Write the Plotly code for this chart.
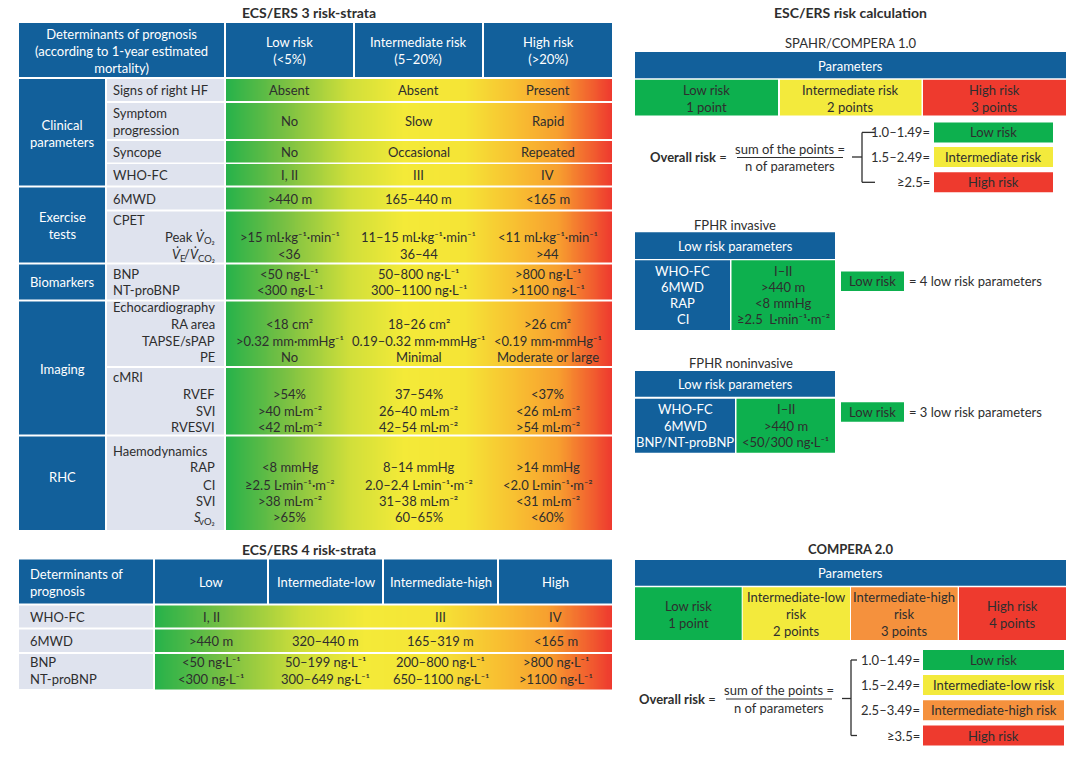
import numpy as np
import plotly.graph_objects as go

FONT = "Lato"
BLUE = "#12609b"
LIGHT = "#dfe3ee"
GREEN = "#0db04e"
YELLOW = "#f3ea3c"
ORANGE = "#f5913d"
RED = "#ee3a2e"
TXT = "#2e2e2e"
GRAD = [[0.0, "#27b24a"], [0.15, "#78c043"], [0.32, "#d0df3a"], [0.46, "#f4ea38"],
        [0.62, "#f5e436"], [0.76, "#f8bd31"], [0.86, "#f7a02f"], [1.0, "#ee3a2f"]]

M1 = "⁻¹"
M2 = "⁻²"

# ---------------- data: ECS/ERS 3 risk-strata ----------------
T3_TITLE = "ECS/ERS 3 risk-strata"
T3_HEADER = "Determinants of prognosis<br>(according to 1-year estimated<br>mortality)"
T3_COLUMNS = ["Low risk<br>(<5%)", "Intermediate risk<br>(5–20%)", "High risk<br>(>20%)"]
T3_GROUPS = ["Clinical<br>parameters", "Exercise<br>tests", "Biomarkers", "Imaging", "RHC"]
T3_SUBHEADS = ["Signs of right HF", "Symptom<br>progression", "Syncope", "WHO-FC", "6MWD", "CPET",
               "BNP", "NT-proBNP", "Echocardiography", "cMRI", "Haemodynamics"]
# each sub-item: list of (main text, subscript) pieces
T3_SUBITEMS = [[("Peak <i>V̇</i>", "O₂")], [("<i>V̇</i>", "E"), ("/<i>V̇</i>", "CO₂")],
               [("RA area", "")], [("TAPSE/sPAP", "")], [("PE", "")],
               [("RVEF", "")], [("SVI", "")], [("RVESVI", "")],
               [("RAP", "")], [("CI", "")], [("SVI", "")], [("<i>S</i>", "vO₂")]]
T3_LOW = ["Absent", "No", "No", "I, II", ">440 m", ">15 mL·kg" + M1 + "·min" + M1, "<36",
          "<50 ng·L" + M1, "<300 ng·L" + M1, "<18 cm²", ">0.32 mm·mmHg" + M1, "No",
          ">54%", ">40 mL·m" + M2, "<42 mL·m" + M2,
          "<8 mmHg", "≥2.5 L·min" + M1 + "·m" + M2, ">38 mL·m" + M2, ">65%"]
T3_INT = ["Absent", "Slow", "Occasional", "III", "165–440 m", "11–15 mL·kg" + M1 + "·min" + M1, "36–44",
          "50–800 ng·L" + M1, "300–1100 ng·L" + M1, "18–26 cm²", "0.19–0.32 mm·mmHg" + M1, "Minimal",
          "37–54%", "26–40 mL·m" + M2, "42–54 mL·m" + M2,
          "8–14 mmHg", "2.0–2.4 L·min" + M1 + "·m" + M2, "31–38 mL·m" + M2, "60–65%"]
T3_HIGH = ["Present", "Rapid", "Repeated", "IV", "<165 m", "<11 mL·kg" + M1 + "·min" + M1, ">44",
           ">800 ng·L" + M1, ">1100 ng·L" + M1, ">26 cm²", "<0.19 mm·mmHg" + M1, "Moderate or large",
           "<37%", "<26 mL·m" + M2, ">54 mL·m" + M2,
           ">14 mmHg", "<2.0 L·min" + M1 + "·m" + M2, "<31 mL·m" + M2, "<60%"]

# ---------------- data: ECS/ERS 4 risk-strata ----------------
T4_TITLE = "ECS/ERS 4 risk-strata"
T4_HEADER = "Determinants of<br>prognosis"
T4_COLUMNS = ["Low", "Intermediate-low", "Intermediate-high", "High"]
T4_ROWS = ["WHO-FC", "6MWD", "BNP", "NT-proBNP"]
T4_LOW = ["I, II", ">440 m", "<50 ng·L" + M1, "<300 ng·L" + M1]
T4_ILOW = ["", "320–440 m", "50–199 ng·L" + M1, "300–649 ng·L" + M1]
T4_IHIGH = ["III", "165–319 m", "200–800 ng·L" + M1, "650–1100 ng·L" + M1]
T4_HIGH = ["IV", "<165 m", ">800 ng·L" + M1, ">1100 ng·L" + M1]

# ---------------- data: risk calculation ----------------
CALC_TITLE = "ESC/ERS risk calculation"
SP_TITLE = "SPAHR/COMPERA 1.0"
SP_POINTS = ["Low risk<br>1 point", "Intermediate risk<br>2 points", "High risk<br>3 points"]
SP_RANGES = ["1.0–1.49=", "1.5–2.49=", "≥2.5="]
SP_RESULTS = ["Low risk", "Intermediate risk", "High risk"]
FI_TITLE = "FPHR invasive"
FI_PARAMS = ["WHO-FC", "6MWD", "RAP", "CI"]
FI_VALUES = ["I–II", ">440 m", "<8 mmHg", "≥2.5  L·min" + M1 + "·m" + M2]
FI_RESULT = "= 4 low risk parameters"
FN_TITLE = "FPHR noninvasive"
FN_PARAMS = ["WHO-FC", "6MWD", "BNP/NT-proBNP"]
FN_VALUES = ["I–II", ">440 m", "<50/300 ng·L" + M1]
FN_RESULT = "= 3 low risk parameters"
C2_TITLE = "COMPERA 2.0"
C2_POINTS = ["Low risk<br>1 point", "Intermediate-low<br>risk<br>2 points",
             "Intermediate-high<br>risk<br>3 points", "High risk<br>4 points"]
C2_RANGES = ["1.0–1.49=", "1.5–2.49=", "2.5–3.49=", "≥3.5="]
C2_RESULTS = ["Low risk", "Intermediate-low risk", "Intermediate-high risk", "High risk"]
FRACTION_TOP = "sum of the points ="
FRACTION_BOTTOM = "n of parameters"
OVERALL = "<b>Overall risk</b> ="

# approximate rendered widths (px) of the sub-label pieces, used to chain them
PIECE_W = {"O₂": 10.5, "E": 5.5, "CO₂": 16.0, "vO₂": 14.5, "/<i>V̇</i>": 13.0}

# ---------------- helpers ----------------
shapes = []
anns = []
traces = []


def rect(x0, y0, x1, y1, color):
    shapes.append(dict(type="rect", xref="x", yref="y", x0=x0, y0=y0, x1=x1, y1=y1,
                       fillcolor=color, line=dict(width=0), layer="above"))


def line(x0, y0, x1, y1, color=TXT, width=1.3):
    shapes.append(dict(type="line", xref="x", yref="y", x0=x0, y0=y0, x1=x1, y1=y1,
                       line=dict(color=color, width=width), layer="above"))


def txt(x, y, s, size=13, color=TXT, xanchor="center"):
    anns.append(dict(x=x, y=y, xref="x", yref="y", text=s, showarrow=False,
                     xanchor=xanchor, yanchor="middle", align=xanchor,
                     font=dict(family=FONT, size=size, color=color)))


def gradient(x0, x1, y0, y1, n=400):
    dx = (x1 - x0) / n
    traces.append(go.Heatmap(z=[list(np.linspace(0, 1, n))], x0=x0 + dx / 2, dx=dx,
                             y0=(y0 + y1) / 2, dy=(y1 - y0), colorscale=GRAD, zmin=0, zmax=1,
                             showscale=False, hoverinfo="skip"))


# ================= Table: ECS/ERS 3 =================
L, GR, SL, SR, VL, R = 19, 105, 107, 224, 226, 612
txt(308.5, 12, "<b>" + T3_TITLE + "</b>", size=14)
hdr_cols = [(L, SR), (226, 353), (355, 482), (484, R)]
for (a, b) in hdr_cols:
    rect(a, 23, b, 77, BLUE)
txt((L + SR) / 2, 50.5, T3_HEADER, color="white")
for i, s in enumerate(T3_COLUMNS):
    a, b = hdr_cols[i + 1]
    txt((a + b) / 2, 50.5, s, color="white")

bands = [(79, 101), (103, 139), (141, 162.5), (164, 185.5), (187.5, 209.5), (211.5, 262.5),
         (264.5, 299.5), (301.5, 366), (368, 434.5), (436.5, 530)]
group_spans = [(79, 185.5), (187.5, 262.5), (264.5, 299.5), (301.5, 434.5), (436.5, 530)]
group_y = [133, 225.7, 282, 369, 477]

gradient(VL, R, bands[0][0], bands[-1][1])
for i in range(len(bands) - 1):
    rect(VL - 1, bands[i][1], R + 1, bands[i + 1][0], "white")
for (a, b) in bands:
    rect(SL, a, SR, b, LIGHT)
for (a, b), gy, g in zip(group_spans, group_y, T3_GROUPS):
    rect(L, a, GR, b, BLUE)
    txt((L + GR) / 2, gy, g, color="white")

subhead_y = [89.7, 121, 151.7, 175, 199, 220, 274, 290, 307.3, 377, 451]
for s, y in zip(T3_SUBHEADS, subhead_y):
    txt(111, y, s, xanchor="left")
subitem_y = [236.7, 254, 324.3, 341, 357, 394, 410.7, 426.7, 467.3, 484.7, 501, 517.3]
for pieces, y in zip(T3_SUBITEMS, subitem_y):
    cur = 217
    for main, sub in reversed(pieces):
        if sub:
            txt(cur, y + 4, sub, size=9.5, xanchor="right")
            cur -= PIECE_W[sub]
        txt(cur, y, main, xanchor="right")
        cur -= PIECE_W.get(main, 0)

value_y = [89.7, 121, 151.7, 175, 199, 236.7, 254, 274, 290, 324.3, 341, 357,
           394, 410.7, 426.7, 467.3, 484.7, 501, 517.3]
for col_x, vals in zip([289.5, 418.5, 547.5], [T3_LOW, T3_INT, T3_HIGH]):
    for s, y in zip(vals, value_y):
        txt(col_x, y, s)

# ================= Table: ECS/ERS 4 =================
txt(308.5, 549, "<b>" + T4_TITLE + "</b>", size=14)
h4 = [(L, 153), (155, 267), (269, 382), (384, 497), (499, R)]
for (a, b) in h4:
    rect(a, 559.5, b, 603.5, BLUE)
txt(28, 582, T4_HEADER, color="white", xanchor="left")
for i, s in enumerate(T4_COLUMNS):
    a, b = h4[i + 1]
    txt((a + b) / 2, 582, s, color="white")
rows4 = [(605.5, 627.5), (629.5, 652), (654, 689)]
gradient(155, R, rows4[0][0], rows4[-1][1])
for i in range(len(rows4) - 1):
    rect(154, rows4[i][1], R + 1, rows4[i + 1][0], "white")
for (a, b) in rows4:
    rect(L, a, 153, b, LIGHT)
row4_y = [617, 641, 662, 679]
for s, y in zip(T4_ROWS, row4_y):
    txt(28, y, s, xanchor="left")
for i, vals in enumerate([T4_LOW, T4_ILOW, T4_IHIGH, T4_HIGH]):
    a, b = h4[i + 1]
    for s, y in zip(vals, row4_y):
        if s:
            txt((a + b) / 2, y, s)

# ================= Risk calculation =================
txt(850.5, 12, "<b>" + CALC_TITLE + "</b>", size=14)


def calc_block(title, title_y, bar, cells, points, colors, ov_x, ov_y, frac_x, frac_w,
               brk_x, stub_x0, tick_x1, range_x, ranges, box, results, res_y, res_h):
    txt(850.5, title_y, title)
    rect(bar[0], bar[1], bar[2], bar[3], BLUE)
    txt((bar[0] + bar[2]) / 2, (bar[1] + bar[3]) / 2 + 0.5, "Parameters", color="white")
    for (a, b), s, c in zip(cells[0], points, colors):
        rect(a, cells[1], b, cells[2], c)
        txt((a + b) / 2, (cells[1] + cells[2]) / 2 + 0.5, s)
    txt(ov_x, ov_y, OVERALL, xanchor="left")
    txt(frac_x, ov_y - 8.3, FRACTION_TOP)
    line(frac_x - frac_w / 2, ov_y + 0.5, frac_x + frac_w / 2, ov_y + 0.5, width=1)
    txt(frac_x, ov_y + 9, FRACTION_BOTTOM)
    line(stub_x0, ov_y, brk_x, ov_y)
    line(brk_x, res_y[0], brk_x, res_y[-1])
    line(brk_x, res_y[0], tick_x1, res_y[0])
    line(brk_x, res_y[-1], tick_x1, res_y[-1])
    for s, y in zip(ranges, res_y):
        txt(range_x, y, s, xanchor="right")
    for s, y, c in zip(results, res_y, colors):
        rect(box[0], y - res_h / 2, box[1], y + res_h / 2, c)
        txt((box[0] + box[1]) / 2, y, s)


calc_block(SP_TITLE, 42.5, (635, 52, 1066, 78.3),
           ([(635, 778), (780, 921.5), (923, 1066)], 79.8, 115.5), SP_POINTS,
           [GREEN, YELLOW, RED], 648, 157, 790, 106,
           862, 852, 875, 931.5, SP_RANGES, (934, 1053), SP_RESULTS,
           [132.4, 157, 182.3], 20)

calc_block("<b>" + C2_TITLE + "</b>", 549, (635, 560, 1066, 585.7),
           ([(635, 741.7), (742.7, 850), (851, 957.7), (959, 1066)], 587.3, 640), C2_POINTS,
           [GREEN, YELLOW, ORANGE, RED], 637, 698.5, 779, 106,
           851, 842, 857, 921.5, C2_RANGES, (923, 1064), C2_RESULTS,
           [660, 685, 710.3, 735.5], 20)


def fphr(title, title_x, title_y, bar, split, low_y, params, values, text_y, box_y, result):
    txt(title_x, title_y, title)
    rect(bar[0], bar[1], bar[2], bar[3], BLUE)
    txt((bar[0] + bar[2]) / 2, (bar[1] + bar[3]) / 2 + 0.5, "Low risk parameters", color="white")
    rect(bar[0], low_y[0], split[0], low_y[1], BLUE)
    rect(split[1], low_y[0], bar[2], low_y[1], GREEN)
    for s, v, y in zip(params, values, text_y):
        txt((bar[0] + split[0]) / 2, y, s, color="white")
        txt((split[1] + bar[2]) / 2, y, v)
    rect(841, box_y - 9.7, 904, box_y + 9.7, GREEN)
    txt(872.5, box_y, "Low risk")
    txt(907, box_y, result, xanchor="left")


fphr(FI_TITLE, 735, 224.5, (635, 232.3, 835, 259), (730, 731.5), (260.3, 330),
     FI_PARAMS, FI_VALUES, [270.7, 286.7, 303.3, 319.3], 281.2, FI_RESULT)
fphr(FN_TITLE, 740.5, 363, (635, 371, 835, 396.7), (735, 736.5), (398.7, 452.7),
     FN_PARAMS, FN_VALUES, [409.3, 426, 441.7], 412, FN_RESULT)

fig = go.Figure(data=traces)
fig.update_layout(
    width=1080, height=760, autosize=False,
    margin=dict(l=0, r=0, t=0, b=0, pad=0),
    paper_bgcolor="white", plot_bgcolor="white",
    xaxis=dict(range=[0, 1080], visible=False, autorange=False, fixedrange=True),
    yaxis=dict(range=[760, 0], visible=False, autorange=False, fixedrange=True),
    shapes=shapes, annotations=anns, showlegend=False,
    font=dict(family=FONT, size=13, color=TXT),
)
fig.write_html("out.html", config={"displayModeBar": False},
               post_script="document.body.style.margin='0';")
